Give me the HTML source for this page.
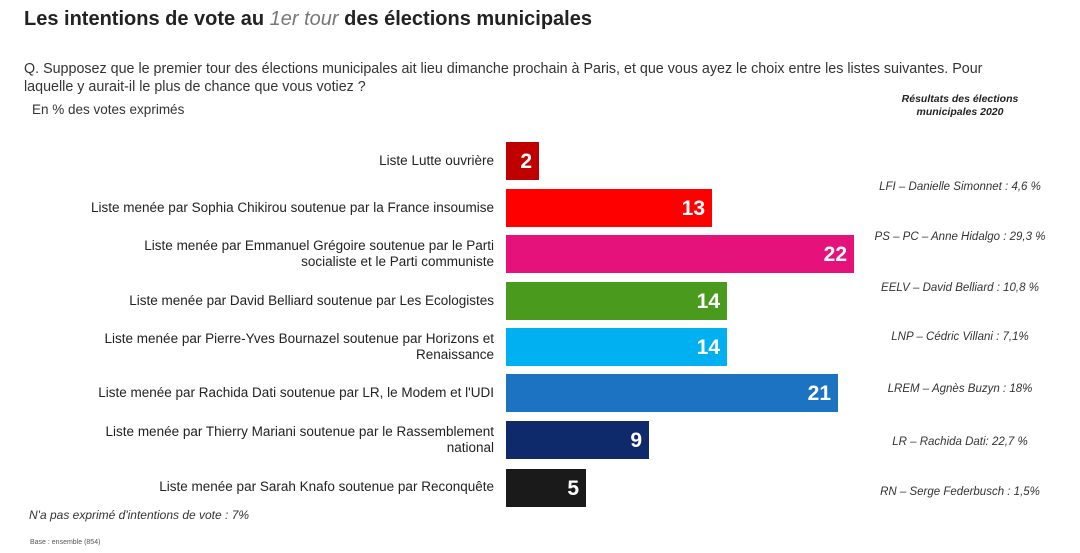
<!DOCTYPE html>
<html><head><meta charset="utf-8"><style>
body{margin:0;width:1080px;height:553px;background:#fff;font-family:"Liberation Sans",sans-serif;color:#222;position:relative;overflow:hidden}
.a{position:absolute;white-space:nowrap}
.bar{position:absolute;left:506px;height:38px;color:#fff;font-weight:bold;font-size:21px;text-align:right;box-sizing:border-box;padding-right:7px;line-height:40px}
.lab{position:absolute;right:586px;text-align:right;font-size:13.5px;line-height:16px;color:#222}
.r{position:absolute;left:860px;width:200px;text-align:center;font-size:11.5px;font-style:italic;color:#333}
</style></head><body>
<div class="a" style="left:24px;top:8px;font-size:20px;font-weight:bold;color:#222">Les intentions de vote au <span style="font-weight:normal;font-style:italic;color:#777">1er tour</span> des élections municipales</div>
<div class="a" style="left:24px;top:60px;font-size:14.3px;line-height:18px;color:#333">Q. Supposez que le premier tour des élections municipales ait lieu dimanche prochain à Paris, et que vous ayez le choix entre les listes suivantes. Pour<br>laquelle y aurait-il le plus de chance que vous votiez ?</div>
<div class="a" style="left:32px;top:102px;font-size:13.5px;color:#333">En % des votes exprimés</div>
<div class="a" style="left:880px;top:93px;width:160px;text-align:center;font-size:10.5px;font-weight:bold;font-style:italic;line-height:13px">Résultats des élections<br>municipales 2020</div>

<div class="lab" style="top:153px">Liste Lutte ouvrière</div>
<div class="bar" style="top:142px;width:33px;background:#c00000">2</div>
<div class="lab" style="top:200px">Liste menée par Sophia Chikirou soutenue par la France insoumise</div>
<div class="bar" style="top:189px;width:206px;background:#ff0000">13</div>
<div class="lab" style="top:238px">Liste menée par Emmanuel Grégoire soutenue par le Parti<br>socialiste et le Parti communiste</div>
<div class="bar" style="top:235px;width:348px;background:#e5127c">22</div>
<div class="lab" style="top:293px">Liste menée par David Belliard soutenue par Les Ecologistes</div>
<div class="bar" style="top:282px;width:221px;background:#4a9a1e">14</div>
<div class="lab" style="top:331px">Liste menée par Pierre-Yves Bournazel soutenue par Horizons et<br>Renaissance</div>
<div class="bar" style="top:328px;width:221px;background:#00b0f0">14</div>
<div class="lab" style="top:385px">Liste menée par Rachida Dati soutenue par LR, le Modem et l'UDI</div>
<div class="bar" style="top:374px;width:332px;background:#1b73c2">21</div>
<div class="lab" style="top:424px">Liste menée par Thierry Mariani soutenue par le Rassemblement<br>national</div>
<div class="bar" style="top:421px;width:143px;background:#0f2a6b">9</div>
<div class="lab" style="top:479px">Liste menée par Sarah Knafo soutenue par Reconquête</div>
<div class="bar" style="top:469px;width:80px;background:#1a1a1a">5</div>

<div class="r" style="top:181px">LFI – Danielle Simonnet : 4,6 %</div>
<div class="r" style="top:231px">PS – PC – Anne Hidalgo : 29,3 %</div>
<div class="r" style="top:282px">EELV – David Belliard : 10,8 %</div>
<div class="r" style="top:331px">LNP – Cédric Villani : 7,1%</div>
<div class="r" style="top:383px">LREM – Agnès Buzyn : 18%</div>
<div class="r" style="top:436px">LR – Rachida Dati: 22,7 %</div>
<div class="r" style="top:486px">RN – Serge Federbusch : 1,5%</div>

<div class="a" style="left:29px;top:508px;font-size:12px;font-style:italic;color:#333">N'a pas exprimé d'intentions de vote : 7%</div>
<div class="a" style="left:30px;top:539px;font-size:7px;color:#555">Base : ensemble (854)</div>
</body></html>
